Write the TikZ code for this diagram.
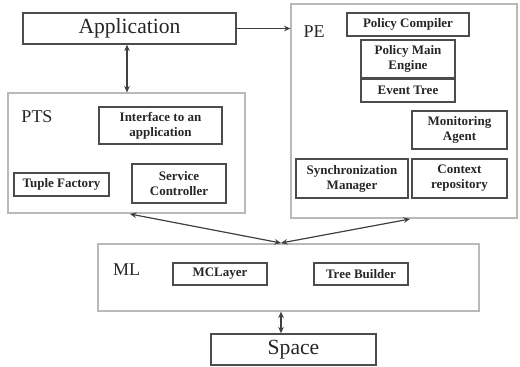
\documentclass[tikz,border=0pt]{standalone}
\usepackage{fontspec}
\setmainfont{Liberation Serif}
\usetikzlibrary{arrows.meta}
\begin{document}
\begin{tikzpicture}[x=0.5pt,y=-0.5pt,
  outerbox/.style={draw=gray!55, line width=0.6pt, inner sep=0pt},
  innerbox/.style={draw=black!70, line width=0.7pt, inner sep=0pt, align=center,
    text=black!85, font=\bfseries\fontsize{6.5}{7.5}\selectfont},
  bigbox/.style={draw=black!70, line width=0.7pt, inner sep=0pt, text=black!85,
    font=\fontsize{10.8}{13}\selectfont},
  grplabel/.style={inner sep=0pt, text=black!85, font=\fontsize{9}{11}\selectfont},
  conn/.style={draw=black!75, line width=0.6pt},
  tip/.style={-{Stealth[length=3.2pt,width=2.8pt]}},
  tips/.style={{Stealth[length=3.2pt,width=2.8pt]}-{Stealth[length=3.2pt,width=2.8pt]}}
]
\useasboundingbox (0,0) rectangle (520,366);
% top
\node[bigbox, minimum width=106.5pt, minimum height=15.5pt] (app) at (129.5,28.5) {Application};
% PTS group
\node[outerbox, minimum width=118.5pt, minimum height=60pt] (pts) at (126.5,153) {};
\node[grplabel] (ptsl) at (37,117) {PTS};
\node[innerbox, minimum width=61.5pt, minimum height=18.5pt] (iface) at (160.5,125.5) {Interface to an\\application};
\node[innerbox, minimum width=47.5pt, minimum height=11.5pt] (tuple) at (61.5,184.5) {Tuple Factory};
\node[innerbox, minimum width=47pt, minimum height=19.5pt] (svc) at (179,183.5) {Service\\Controller};
% PE group
\node[outerbox, minimum width=113pt, minimum height=107pt] (pe) at (404,111) {};
\node[grplabel] (pel) at (314,32) {PE};
\node[innerbox, minimum width=61pt, minimum height=11.5pt] (pc) at (408,24.5) {Policy Compiler};
\node[innerbox, minimum width=47pt, minimum height=19pt] (pme) at (408,59) {Policy Main\\Engine};
\node[innerbox, minimum width=47pt, minimum height=11.5pt] (et) at (408,90.5) {Event Tree};
\node[innerbox, minimum width=47.5pt, minimum height=19pt] (ma) at (459.5,130) {Monitoring\\Agent};
\node[innerbox, minimum width=56pt, minimum height=19.5pt] (sm) at (352,178.5) {Synchronization\\Manager};
\node[innerbox, minimum width=47.5pt, minimum height=19.5pt] (cr) at (459.5,178.5) {Context\\repository};
% ML group
\node[outerbox, minimum width=190.5pt, minimum height=33.5pt] (ml) at (288.5,277.5) {};
\node[grplabel] (mll) at (126.5,270) {ML};
\node[innerbox, minimum width=47pt, minimum height=11pt] (mcl) at (220,274) {MCLayer};
\node[innerbox, minimum width=47pt, minimum height=11pt] (tb) at (361,274) {Tree Builder};
% bottom
\node[bigbox, minimum width=82.5pt, minimum height=15.5pt] (space) at (293.5,349.5) {Space};
% connectors
\coordinate (m) at (281,243);
\coordinate (pA) at (130,214);
\coordinate (pB) at (410,219);
\draw[conn, tip] (app.east) -- (app.east -| pe.west);
\draw[conn, tips] (app.south -| 127,0) -- (pts.north -| 127,0);
\draw[conn, tips] (m) -- (pA);
\draw[conn, tips] (m) -- (pB);
\draw[conn, tips] (m |- ml.south) -- (m |- space.north);
\end{tikzpicture}
\end{document}
